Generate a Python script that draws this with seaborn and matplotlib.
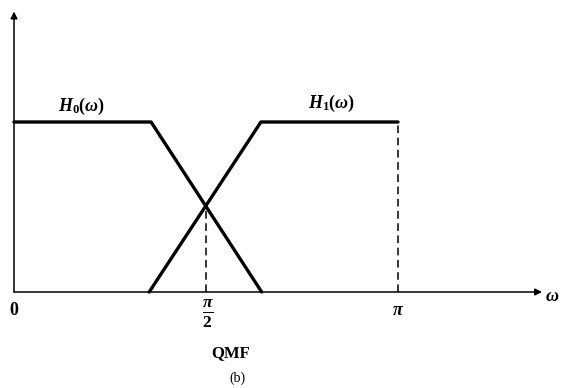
import numpy as np
import pandas as pd
import matplotlib
matplotlib.use("Agg")
import matplotlib.pyplot as plt
import seaborn as sns

# Frequency in units of pi, magnitude normalised to 1
h0_freq = [0.0, 0.357, 0.645]
h0_mag = [1.0, 1.0, 0.0]
h1_freq = [0.352, 0.643, 1.0]
h1_mag = [0.0, 1.0, 1.0]
cross_freq = 0.5
cross_mag = 0.5

tick_pos = [0.0, 0.5, 1.0]
tick_labels = ["0", r"$\frac{\pi}{2}$", r"$\pi$"]

sns.set_theme(style="white")
plt.rcParams["font.family"] = ["Liberation Serif", "DejaVu Serif"]
plt.rcParams["text.color"] = "black"
plt.rcParams["mathtext.fontset"] = "custom"
plt.rcParams["mathtext.rm"] = "Liberation Serif:bold"
plt.rcParams["mathtext.it"] = "Liberation Serif:italic:bold"
plt.rcParams["mathtext.bf"] = "Liberation Serif:bold"

fig = plt.figure(figsize=(5.62, 3.88), dpi=100)
ax = fig.add_axes([0, 0, 1, 1])

df0 = pd.DataFrame({"w": h0_freq, "H": h0_mag})
df1 = pd.DataFrame({"w": h1_freq, "H": h1_mag})
sns.lineplot(data=df0, x="w", y="H", color="black", lw=2.4, ax=ax, sort=False)
sns.lineplot(data=df1, x="w", y="H", color="black", lw=2.4, ax=ax, sort=False)

# dashed guides
ax.plot([1.0, 1.0], [0, 1.0], ls=(0, (5, 3)), color="black", lw=1.1)
ax.plot([cross_freq, cross_freq], [0, cross_mag], ls=(0, (5, 3)), color="black", lw=1.1)

# axes with arrows
ax.annotate("", xy=(1.375, 0), xytext=(0, 0),
            arrowprops=dict(arrowstyle="-|>", color="black", lw=1.1, mutation_scale=10,
                            shrinkA=0, shrinkB=0))
ax.annotate("", xy=(0, 1.65), xytext=(0, 0),
            arrowprops=dict(arrowstyle="-|>", color="black", lw=1.1, mutation_scale=10,
                            shrinkA=0, shrinkB=0))

ax.set_xlim(-14 / 384, 548 / 384)
ax.set_ylim(-96 / 170, 292 / 170)
ax.axis("off")

# tick labels
ax.text(tick_pos[0], -0.06, tick_labels[0], ha="center", va="top", fontsize=13, fontweight="bold")
ax.text(tick_pos[1] + 0.005, -0.035, tick_labels[1], ha="center", va="top", fontsize=18)
ax.text(tick_pos[2], -0.06, tick_labels[2], ha="center", va="top", fontsize=13)
ax.text(1.383, -0.025, r"$\omega$", ha="left", va="center", fontsize=13)

ax.text(0.177, 1.09, r"$H_0(\omega)$", ha="center", va="center", fontsize=13)
ax.text(0.828, 1.11, r"$H_1(\omega)$", ha="center", va="center", fontsize=13)

ax.text(0.565, -0.36, "QMF", ha="center", va="center", fontsize=12, fontweight="bold")
ax.text(0.583, -0.505, "(b)", ha="center", va="center", fontsize=10)

fig.savefig("out.png", dpi=100)
